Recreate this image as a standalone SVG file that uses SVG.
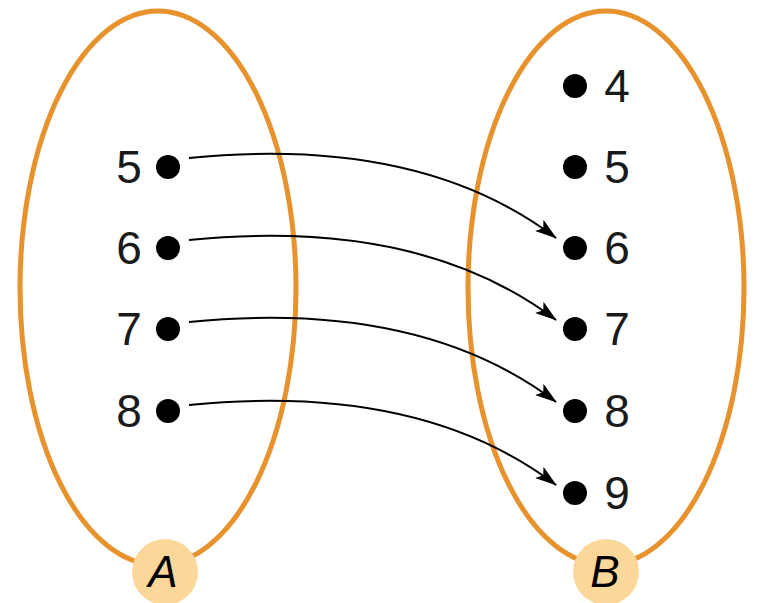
<svg xmlns="http://www.w3.org/2000/svg" width="757" height="603" viewBox="0 0 757 603">
<defs>
<style>
.set{fill:none;stroke:#e8922e;stroke-width:5}
.badge{fill:#fbd89a}
.dot{fill:#000}
.num{font-family:"Liberation Sans",Arial,sans-serif;font-size:46px;fill:#1a1a1a}
.lbl{font-family:"Liberation Sans",Arial,sans-serif;font-size:44px;font-style:italic;fill:#000}
.arr{fill:none;stroke:#000;stroke-width:2}
</style>
<marker id="ah" viewBox="0 0 22 14" refX="21" refY="7" markerWidth="22" markerHeight="14" markerUnits="userSpaceOnUse" orient="auto">
<path d="M0,0 L22,7 L0,14 L5,7 z" fill="#000"/>
</marker>
</defs>
<rect width="757" height="603" fill="#fff"/>
<g id="setA">
<ellipse class="set" cx="158" cy="288" rx="138" ry="277"/>
<circle class="badge" cx="165" cy="572" r="33"/>
<text class="lbl" x="163" y="587" text-anchor="middle">A</text>
</g>
<g id="setB">
<ellipse class="set" cx="606" cy="288" rx="138" ry="277"/>
<circle class="badge" cx="606" cy="572" r="33"/>
<text class="lbl" x="605" y="587" text-anchor="middle">B</text>
</g>
<g id="a5"><circle class="dot" cx="168" cy="167" r="12"/><text class="num" x="129" y="183" text-anchor="middle">5</text></g>
<g id="a6"><circle class="dot" cx="168" cy="248" r="12"/><text class="num" x="129" y="264" text-anchor="middle">6</text></g>
<g id="a7"><circle class="dot" cx="168" cy="329" r="12"/><text class="num" x="129" y="345" text-anchor="middle">7</text></g>
<g id="a8"><circle class="dot" cx="168" cy="411" r="12"/><text class="num" x="129" y="427" text-anchor="middle">8</text></g>
<g id="b4"><circle class="dot" cx="575" cy="86" r="12"/><text class="num" x="617" y="102" text-anchor="middle">4</text></g>
<g id="b5"><circle class="dot" cx="575" cy="167" r="12"/><text class="num" x="617" y="183" text-anchor="middle">5</text></g>
<g id="b6"><circle class="dot" cx="575" cy="248" r="12"/><text class="num" x="617" y="264" text-anchor="middle">6</text></g>
<g id="b7"><circle class="dot" cx="575" cy="329" r="12"/><text class="num" x="617" y="345" text-anchor="middle">7</text></g>
<g id="b8"><circle class="dot" cx="575" cy="411" r="12"/><text class="num" x="617" y="427" text-anchor="middle">8</text></g>
<g id="b9"><circle class="dot" cx="575" cy="493" r="12"/><text class="num" x="617" y="509" text-anchor="middle">9</text></g>
<g id="connectors">
<path class="arr" marker-end="url(#ah)" d="M189,158 Q420,135 556,238"/>
<path class="arr" marker-end="url(#ah)" d="M189,240 Q420,217 556,320"/>
<path class="arr" marker-end="url(#ah)" d="M189,322 Q420,299 556,402"/>
<path class="arr" marker-end="url(#ah)" d="M189,405 Q420,382 556,485"/>
</g>
</svg>
